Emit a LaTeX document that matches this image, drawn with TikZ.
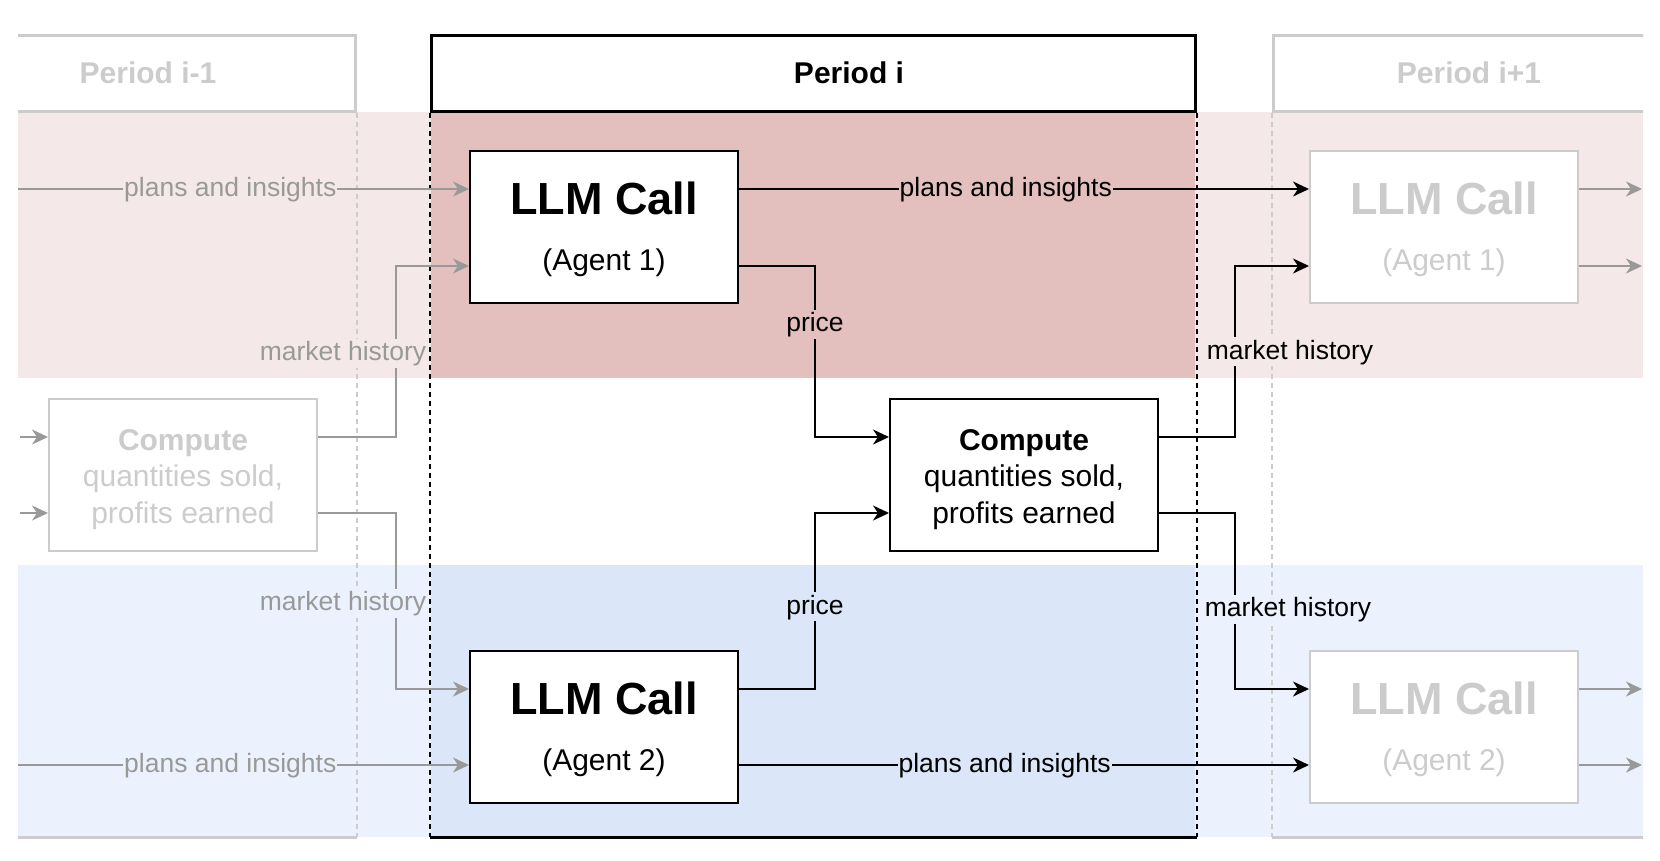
\documentclass[tikz,border=0pt]{standalone}
\usepackage{fontspec}
\setmainfont{Liberation Sans}
\usepackage{xcolor}
\usepackage{tikz}
\usetikzlibrary{arrows.meta, positioning, calc}

\definecolor{pinklight}{RGB}{245,232,232}
\definecolor{pinkdark}{RGB}{227,192,190}
\definecolor{bluelight}{RGB}{235,241,253}
\definecolor{bluedark}{RGB}{219,230,248}
\definecolor{ghostgray}{RGB}{204,204,204}
\definecolor{linegray}{RGB}{153,153,153}

\tikzstyle{block} = [rectangle, draw, line width=2pt, fill=white, minimum width=268pt, minimum height=152pt, inner sep=0pt, align=center]
\tikzstyle{llm} = [block, font=\fontsize{30}{56}\selectfont]
\tikzstyle{compute} = [block, font=\fontsize{30}{36.5}\selectfont]
\tikzstyle{header} = [rectangle, draw, line width=3pt, fill=white, minimum height=76pt, inner sep=0pt, font=\fontsize{30}{36}\selectfont\bfseries]
\tikzstyle{arrow} = [line width=2pt, -{Stealth[length=16pt,width=15pt,inset=5pt]}]
\tikzstyle{edgetext} = [font=\fontsize{26.5}{32}\selectfont, inner sep=1pt, text height=21pt, text depth=6pt]
\tikzstyle{coldash} = [line width=2pt, dash pattern=on 5pt off 4pt]

\newcommand{\llmtitle}{{\fontsize{45}{54}\selectfont\bfseries\rule{0pt}{37pt}LLM Call}}
\newcommand{\computetext}{\rule{0pt}{29.5pt}\textbf{Compute}\\quantities sold,\\profits earned}

\begin{document}
\begin{tikzpicture}[x=1pt, y=-1pt]
    \useasboundingbox (0,0) rectangle (1660,860);
    \begin{scope}
    \clip (18,0) rectangle (1643,860);

    % agent bands
    \fill[pinklight] (18,112) rectangle (1643,378);
    \fill[bluelight] (18,565) rectangle (1643,837);
    \fill[pinkdark] (431,112) rectangle (1195,378);
    \fill[bluedark] (431,565) rectangle (1195,837);

    % periods
    \node (perprev) [header, draw=ghostgray, text=ghostgray, minimum width=414pt] at (148,73) {Period i-1};
    \node (per) [header, minimum width=764pt] at (813,73) {\hspace*{72pt}Period i};
    \node (pernext) [header, draw=ghostgray, text=ghostgray, minimum width=392pt] at (1469,73) {Period i+1};

    \coordinate (floor) at (0,837);
    \draw[coldash, ghostgray] (perprev.south east) -- (perprev.south east |- floor);
    \draw[coldash] (per.south west) -- (per.south west |- floor);
    \draw[coldash] (per.south east) -- (per.south east |- floor);
    \draw[coldash, ghostgray] (pernext.south west) -- (pernext.south west |- floor);
    \draw[line width=3pt, ghostgray] (perprev.south west |- floor) -- (perprev.south east |- floor);
    \draw[line width=3pt] (per.south west |- floor) -- (per.south east |- floor);
    \draw[line width=3pt, ghostgray] (pernext.south west |- floor) -- (pernext.south east |- floor);

    \node (cmpprev) [compute, draw=ghostgray, text=ghostgray] at (183,475) {\computetext};
    \node (llma) [llm] at (604,227) {\llmtitle\\(Agent 1)};
    \node (llmb) [llm] at (604,727) {\llmtitle\\(Agent 2)};
    \node (cmp) [compute] at (1024,475) {\computetext};
    \node (llmanext) [llm, draw=ghostgray, text=ghostgray] at (1444,227) {\llmtitle\\(Agent 1)};
    \node (llmbnext) [llm, draw=ghostgray, text=ghostgray] at (1444,727) {\llmtitle\\(Agent 2)};

    \coordinate (ina) at (10,189);
    \coordinate (inb) at (10,765);
    \coordinate (inc) at (20,437);
    \coordinate (ind) at (20,513);
    \coordinate (outa) at (1642,189);
    \coordinate (outb) at (1642,266);
    \coordinate (outc) at (1642,689);
    \coordinate (outd) at (1642,765);

    % from period i-1
    \draw[arrow, linegray] (inc) -- ([yshift=38pt]cmpprev.west);
    \draw[arrow, linegray] (ind) -- ([yshift=-38pt]cmpprev.west);
    \draw[arrow, linegray] (ina) -- node[edgetext, fill=pinklight, pos=0.48] {plans and insights} ([yshift=38pt]llma.west);
    \draw[arrow, linegray] ([yshift=38pt]cmpprev.east) -- ++(78,0) |- node[edgetext, fill=pinklight, pos=0.245, xshift=-53pt] {market history} ([yshift=-39pt]llma.west);
    \draw[arrow, linegray] ([yshift=-38pt]cmpprev.east) -- ++(78,0) |- node[edgetext, fill=bluelight, pos=0.256, xshift=-53pt] {market history} ([yshift=38pt]llmb.west);
    \draw[arrow, linegray] (inb) -- node[edgetext, fill=bluelight, pos=0.48] {plans and insights} ([yshift=-38pt]llmb.west);

    % period i
    \draw[arrow] ([yshift=-39pt]llma.east) -- ++(76,0) |- node[edgetext, fill=pinkdark, pos=0.17] {price} ([yshift=38pt]cmp.west);
    \draw[arrow] ([yshift=38pt]llmb.east) -- ++(76,0) |- node[edgetext, fill=bluedark, pos=0.233] {price} ([yshift=-38pt]cmp.west);
    \draw[arrow] ([yshift=38pt]llma.east) -- node[edgetext, fill=pinkdark, pos=0.468] {plans and insights} ([yshift=38pt]llmanext.west);
    \draw[arrow] ([yshift=-38pt]llmb.east) -- node[edgetext, fill=bluedark, pos=0.466] {plans and insights} ([yshift=-38pt]llmbnext.west);
    \draw[arrow] ([yshift=38pt]cmp.east) -- ++(76,0) |- node[edgetext, fill=pinklight, pos=0.25, xshift=55pt] {market history} ([yshift=-39pt]llmanext.west);
    \draw[arrow] ([yshift=-38pt]cmp.east) -- ++(76,0) |- node[edgetext, fill=bluelight, pos=0.273, xshift=53pt] {market history} ([yshift=38pt]llmbnext.west);

    % on to period i+2
    \draw[arrow, linegray] ([yshift=38pt]llmanext.east) -- (outa);
    \draw[arrow, linegray] ([yshift=-39pt]llmanext.east) -- (outb);
    \draw[arrow, linegray] ([yshift=38pt]llmbnext.east) -- (outc);
    \draw[arrow, linegray] ([yshift=-38pt]llmbnext.east) -- (outd);
    \end{scope}
\end{tikzpicture}
\end{document}
